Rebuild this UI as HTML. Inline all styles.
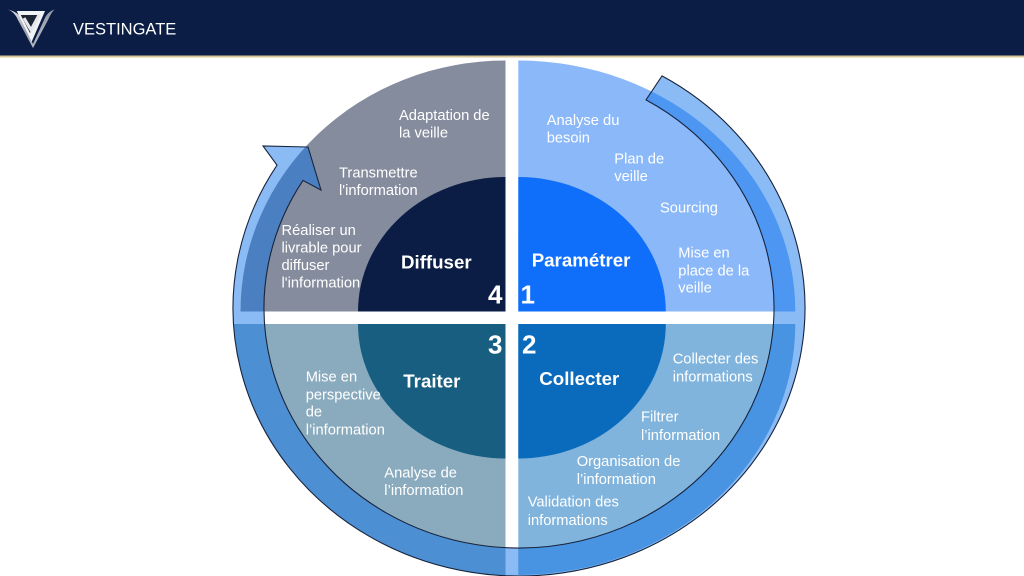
<!DOCTYPE html>
<html><head><meta charset="utf-8"><style>
html,body{margin:0;padding:0;background:#fff;}
body{width:1024px;height:576px;overflow:hidden;}
svg{display:block;}
text{font-family:"Liberation Sans",Arial,sans-serif;fill:#fff;}
.l{font-size:14.7px;}
.b{font-size:18.7px;font-weight:bold;}
.n{font-size:26px;font-weight:bold;}
</style></head><body>
<svg width="1024" height="576" viewBox="0 0 1024 576" xmlns="http://www.w3.org/2000/svg">
<defs>
<linearGradient id="sil" x1="0" y1="0" x2="1" y2="1">
<stop offset="0" stop-color="#e8eaee"/><stop offset="0.5" stop-color="#9aa0ab"/><stop offset="1" stop-color="#d0d3da"/>
</linearGradient>
<clipPath id="ringclip"><ellipse cx="519" cy="308" rx="286" ry="268"/></clipPath>
</defs>
<!-- header -->
<rect x="0" y="0" width="1024" height="55.5" fill="#0b1d45"/>
<rect x="0" y="55.5" width="1024" height="2" fill="#d6c594"/>
<!-- logo -->
<path d="M6.7,9.3 Q14,11 18,20 L33,48 L48,20 Q52,11 55,9.3 Q47,12 44,20 L33,44 L22,20 Q19,12 6.7,9.3 Z" fill="url(#sil)"/>
<polygon points="16.7,11 45,11 31.7,41.7" fill="#f2f3f5"/>
<polygon points="20.7,15 39.3,15 30,33" fill="#1e2636"/>
<polyline points="24,18 31,30 39,15" fill="none" stroke="#e6e8ec" stroke-width="3"/>
<text x="73" y="34.3" style="font-size:16.5px;">VESTINGATE</text>

<!-- quadrants outer -->
<path d="M505.5,311.5 L505.5,60.5 A265,251 0 0,0 240.5,311.5 Z" fill="#858c9d"/>
<path d="M518.3,311.5 L518.3,60.5 A277,251 0 0,1 795.3,311.5 Z" fill="#8ab8f9"/>
<path d="M505.5,324 L225,324 A290,262 0 0,0 505.5,586 Z" fill="#8aabbe" clip-path="url(#ringclip)"/>
<path d="M518.3,324 L795.3,324 A277,251 0 0,1 518.3,575 Z" fill="#80b4dc"/>
<!-- quadrants inner -->
<path d="M505.5,311.5 L505.5,177 A147.5,134.5 0 0,0 358,311.5 Z" fill="#0b1d45"/>
<path d="M518.3,311.5 L518.3,177 A147.5,134.5 0 0,1 665.8,311.5 Z" fill="#0f6ffa"/>
<path d="M505.5,324 L358,324 A147.5,134.5 0 0,0 505.5,458.5 Z" fill="#175e80"/>
<path d="M518.3,324 L665.8,324 A147.5,134.5 0 0,1 518.3,458.5 Z" fill="#0a6bbd"/>

<!-- ring arrow -->
<path d="M662,75.91 A286,268 0 1,1 277,165.17 L263,146 L308,147 L321,190 L303,180.44 A255,240 0 1,0 646,99.88 Z" fill="rgba(10,112,235,0.48)" stroke="#18243c" stroke-width="1.1" stroke-linejoin="miter"/>

<!-- bold labels -->
<text class="b" x="401" y="268.3">Diffuser</text>
<text class="b" x="531.7" y="266.7">Paramétrer</text>
<text class="b" x="403.3" y="387.3">Traiter</text>
<text class="b" x="539.3" y="385">Collecter</text>
<!-- numbers -->
<text class="n" x="502.5" y="303.5" text-anchor="end">4</text>
<text class="n" x="520.5" y="303.5">1</text>
<text class="n" x="502.5" y="353.5" text-anchor="end">3</text>
<text class="n" x="522" y="353.5">2</text>

<!-- TL labels -->
<text class="l" x="399" y="120"><tspan x="399">Adaptation de</tspan><tspan x="399" dy="17.4">la veille</tspan></text>
<text class="l" x="339" y="177.3"><tspan x="339">Transmettre</tspan><tspan x="339" dy="17.6">l'information</tspan></text>
<text class="l" x="281.5" y="235"><tspan x="281.5">Réaliser un</tspan><tspan x="281.5" dy="17.4">livrable pour</tspan><tspan x="281.5" dy="17.6">diffuser</tspan><tspan x="281.5" dy="17.4">l'information</tspan></text>
<!-- TR labels -->
<text class="l" x="546.7" y="125"><tspan x="546.7">Analyse du</tspan><tspan x="546.7" dy="17.7">besoin</tspan></text>
<text class="l" x="614.3" y="163.3"><tspan x="614.3">Plan de</tspan><tspan x="614.3" dy="17.7">veille</tspan></text>
<text class="l" x="660" y="212.3">Sourcing</text>
<text class="l" x="678.3" y="257.3"><tspan x="678.3">Mise en</tspan><tspan x="678.3" dy="18">place de la</tspan><tspan x="678.3" dy="17.4">veille</tspan></text>
<!-- BL labels -->
<text class="l" x="305.7" y="381.7"><tspan x="305.7">Mise en</tspan><tspan x="305.7" dy="17.6">perspective</tspan><tspan x="305.7" dy="17.4">de</tspan><tspan x="305.7" dy="17.6">l’information</tspan></text>
<text class="l" x="384.3" y="477.3"><tspan x="384.3">Analyse de</tspan><tspan x="384.3" dy="17.7">l’information</tspan></text>
<!-- BR labels -->
<text class="l" x="672.7" y="363.3"><tspan x="672.7">Collecter des</tspan><tspan x="672.7" dy="18.3">informations</tspan></text>
<text class="l" x="641" y="421.7"><tspan x="641">Filtrer</tspan><tspan x="641" dy="18.3">l’information</tspan></text>
<text class="l" x="576.7" y="466"><tspan x="576.7">Organisation de</tspan><tspan x="576.7" dy="18">l’information</tspan></text>
<text class="l" x="527.7" y="506.7"><tspan x="527.7">Validation des</tspan><tspan x="527.7" dy="18.3">informations</tspan></text>
</svg>
</body></html>
